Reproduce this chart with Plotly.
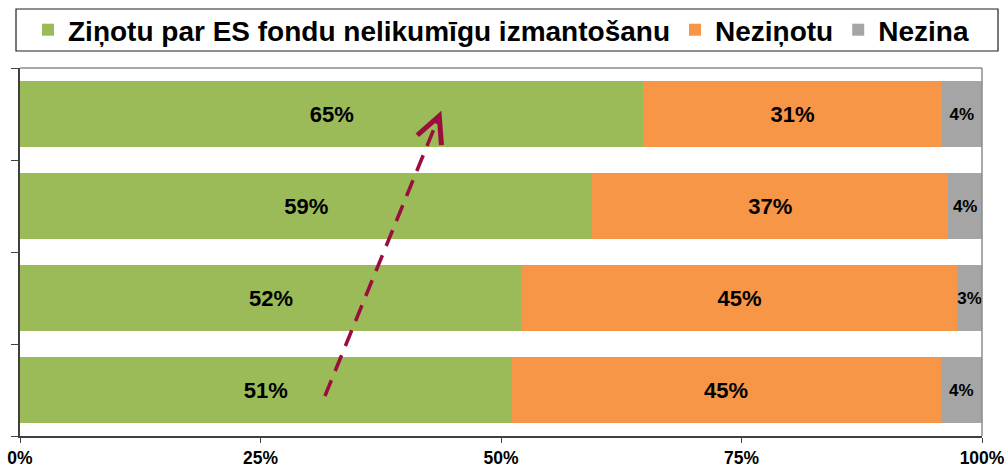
import plotly.graph_objects as go

# Rows from bottom to top
rows = [0, 1, 2, 3]
series_names = ["Ziņotu par ES fondu nelikumīgu izmantošanu", "Neziņotu", "Nezina"]
reported = [51.1, 52.2, 59.5, 64.8]
not_reported = [44.6, 45.2, 37.0, 31.0]
dont_know = [4.3, 2.6, 3.5, 4.2]
reported_lbl = ["51%", "52%", "59%", "65%"]
not_reported_lbl = ["45%", "45%", "37%", "31%"]
dont_know_lbl = ["4%", "3%", "4%", "4%"]
x_ticks = [0, 25, 50, 75, 100]
x_tick_text = ["0%", "25%", "50%", "75%", "100%"]
# trend arrow (data coordinates): start and tip
arrow_start = (31.7, -0.065)
arrow_end = (43.8, 3.035)

FONT = "Liberation Sans, Arial, sans-serif"
colors = ["#9BBB59", "#F79646", "#A5A5A5"]

fig = go.Figure()
for name, vals, lbls, col, fs in [
    (series_names[0], reported, reported_lbl, colors[0], 22),
    (series_names[1], not_reported, not_reported_lbl, colors[1], 22),
    (series_names[2], dont_know, dont_know_lbl, colors[2], 17),
]:
    fig.add_trace(go.Bar(
        y=rows, x=vals, orientation="h", name=name,
        marker=dict(color=col, line=dict(width=0)),
        text=lbls, textposition="inside", insidetextanchor="middle",
        constraintext="none", textangle=0,
        textfont=dict(family=FONT, size=fs, color="black", weight="bold"),
        hoverinfo="skip",
    ))

# dashed trend line + arrowhead
t = 0.95
tail = (arrow_start[0] + t * (arrow_end[0] - arrow_start[0]),
        arrow_start[1] + t * (arrow_end[1] - arrow_start[1]))
arrow_col = "#9B0D3F"
fig.add_shape(type="line", xref="x", yref="y",
              x0=arrow_start[0], y0=arrow_start[1], x1=tail[0], y1=tail[1],
              line=dict(color=arrow_col, width=3.5, dash="17px,10px"), layer="above")
fig.add_annotation(x=arrow_end[0], y=arrow_end[1], ax=tail[0], ay=tail[1],
                   xref="x", yref="y", axref="x", ayref="y", text="",
                   showarrow=True, arrowhead=5, arrowsize=1.6, arrowwidth=3.2,
                   arrowcolor=arrow_col)

# plot area border top/right (gray)
fig.add_shape(type="line", xref="paper", yref="paper", x0=0, y0=1, x1=1, y1=1,
              line=dict(color="#8C8C8C", width=1.5), layer="above")
fig.add_shape(type="line", xref="paper", yref="paper", x0=1, y0=0, x1=1, y1=1,
              line=dict(color="#8C8C8C", width=1.5), layer="above")
# legend box
fig.add_shape(type="rect", xref="paper", yref="paper",
              x0=(16 - 20) / 962, x1=(998 - 20) / 962,
              y0=(436 - 51) / 368, y1=(436 - 9) / 368,
              line=dict(color="#202020", width=1.2), fillcolor="rgba(0,0,0,0)")

fig.update_layout(
    width=1005, height=467,
    margin=dict(l=20, r=23, t=68, b=31, autoexpand=False),
    barmode="stack", bargap=0.28,
    plot_bgcolor="white", paper_bgcolor="white",
    showlegend=True,
    legend=dict(orientation="h", x=0.5, xanchor="center", y=(436 - 30) / 368,
                yanchor="middle", font=dict(family=FONT, size=28, color="black", weight="bold"),
                bgcolor="rgba(0,0,0,0)", borderwidth=0, traceorder="normal",
                itemclick=False, itemdoubleclick=False),
    xaxis=dict(range=[0, 100], tickvals=x_ticks, ticktext=x_tick_text,
               showgrid=False, zeroline=False, showline=True, linecolor="#404040",
               linewidth=2, ticks="outside", ticklen=5, tickcolor="#404040",
               automargin=False, ticklabeloverflow="allow",
               tickfont=dict(family=FONT, size=17.5, color="black", weight="bold")),
    yaxis=dict(range=[-0.5, 3.5], tickvals=[-0.5, 0.5, 1.5, 2.5, 3.5],
               ticktext=["", "", "", "", ""], showgrid=False, zeroline=False,
               showline=True, linecolor="#404040", linewidth=2, automargin=False,
               ticks="outside", ticklen=7, tickcolor="#404040"),
)

fig.write_html("out.html", config={"displayModeBar": False},
               post_script="document.body.style.margin='0';document.body.style.overflow='hidden';")
